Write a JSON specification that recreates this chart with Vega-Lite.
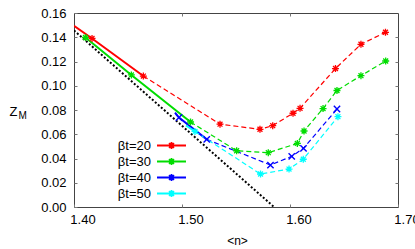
{
  "$schema": "https://vega.github.io/schema/vega-lite/v6.json",
  "width": 324,
  "height": 194,
  "autosize": "none",
  "padding": {"left": 74, "top": 13, "right": 17, "bottom": 42},
  "background": "white",
  "config": {
    "view": {"stroke": "#444", "strokeWidth": 1},
    "axis": {
      "labelFont": "Liberation Sans",
      "titleFont": "Liberation Sans",
      "labelColor": "#000",
      "titleColor": "#000",
      "grid": false,
      "domain": false,
      "tickColor": "#777",
      "tickWidth": 1,
      "labelFontSize": 13,
      "labelFlush": false,
      "titleFontWeight": "normal"
    }
  },
  "datasets": {
    "limit": [
      {"n": 1.40, "z": 0.1456},
      {"n": 1.5852, "z": 0.0}
    ],
    "solid": [
      {"beta": "βt=20", "n": 1.40, "z": 0.1495},
      {"beta": "βt=20", "n": 1.4167, "z": 0.1390},
      {"beta": "βt=20", "n": 1.4642, "z": 0.1080},
      {"beta": "βt=30", "n": 1.4106, "z": 0.1398},
      {"beta": "βt=30", "n": 1.4531, "z": 0.1089},
      {"beta": "βt=30", "n": 1.5079, "z": 0.0701},
      {"beta": "βt=40", "n": 1.4935, "z": 0.0779},
      {"beta": "βt=40", "n": 1.4972, "z": 0.0738},
      {"beta": "βt=40", "n": 1.5229, "z": 0.0558},
      {"beta": "βt=50", "n": 1.5037, "z": 0.0672},
      {"beta": "βt=50", "n": 1.5120, "z": 0.0623}
    ],
    "dashed": [
      {"beta": "βt=20", "n": 1.4642, "z": 0.1080},
      {"beta": "βt=20", "n": 1.5352, "z": 0.0683},
      {"beta": "βt=20", "n": 1.5722, "z": 0.0641},
      {"beta": "βt=20", "n": 1.5840, "z": 0.0671},
      {"beta": "βt=20", "n": 1.6028, "z": 0.0773},
      {"beta": "βt=20", "n": 1.6093, "z": 0.0814},
      {"beta": "βt=20", "n": 1.6421, "z": 0.1142},
      {"beta": "βt=20", "n": 1.6657, "z": 0.1342},
      {"beta": "βt=20", "n": 1.6884, "z": 0.1441},
      {"beta": "βt=30", "n": 1.5079, "z": 0.0701},
      {"beta": "βt=30", "n": 1.5506, "z": 0.0464},
      {"beta": "βt=30", "n": 1.5799, "z": 0.0448},
      {"beta": "βt=30", "n": 1.6068, "z": 0.0524},
      {"beta": "βt=30", "n": 1.6130, "z": 0.0627},
      {"beta": "βt=30", "n": 1.6306, "z": 0.0812},
      {"beta": "βt=30", "n": 1.6435, "z": 0.0961},
      {"beta": "βt=30", "n": 1.6657, "z": 0.1083},
      {"beta": "βt=30", "n": 1.6886, "z": 0.1204},
      {"beta": "βt=40", "n": 1.5229, "z": 0.0558},
      {"beta": "βt=40", "n": 1.5819, "z": 0.0346},
      {"beta": "βt=40", "n": 1.6016, "z": 0.0418},
      {"beta": "βt=40", "n": 1.6125, "z": 0.0484},
      {"beta": "βt=40", "n": 1.6435, "z": 0.0808},
      {"beta": "βt=50", "n": 1.5120, "z": 0.0623},
      {"beta": "βt=50", "n": 1.5727, "z": 0.0272},
      {"beta": "βt=50", "n": 1.5991, "z": 0.0313},
      {"beta": "βt=50", "n": 1.6123, "z": 0.0394},
      {"beta": "βt=50", "n": 1.6444, "z": 0.0745}
    ],
    "markers": [
      {"beta": "βt=20", "n": 1.4167, "z": 0.1390},
      {"beta": "βt=20", "n": 1.4642, "z": 0.1080},
      {"beta": "βt=20", "n": 1.5352, "z": 0.0683},
      {"beta": "βt=20", "n": 1.5722, "z": 0.0641},
      {"beta": "βt=20", "n": 1.5840, "z": 0.0671},
      {"beta": "βt=20", "n": 1.6028, "z": 0.0773},
      {"beta": "βt=20", "n": 1.6093, "z": 0.0814},
      {"beta": "βt=20", "n": 1.6421, "z": 0.1142},
      {"beta": "βt=20", "n": 1.6657, "z": 0.1342},
      {"beta": "βt=20", "n": 1.6884, "z": 0.1441},
      {"beta": "βt=30", "n": 1.4106, "z": 0.1398},
      {"beta": "βt=30", "n": 1.4531, "z": 0.1089},
      {"beta": "βt=30", "n": 1.5079, "z": 0.0701},
      {"beta": "βt=30", "n": 1.5506, "z": 0.0464},
      {"beta": "βt=30", "n": 1.5799, "z": 0.0448},
      {"beta": "βt=30", "n": 1.6068, "z": 0.0524},
      {"beta": "βt=30", "n": 1.6130, "z": 0.0627},
      {"beta": "βt=30", "n": 1.6306, "z": 0.0812},
      {"beta": "βt=30", "n": 1.6435, "z": 0.0961},
      {"beta": "βt=30", "n": 1.6657, "z": 0.1083},
      {"beta": "βt=30", "n": 1.6886, "z": 0.1204},
      {"beta": "βt=40", "n": 1.4972, "z": 0.0738},
      {"beta": "βt=40", "n": 1.5229, "z": 0.0558},
      {"beta": "βt=40", "n": 1.5819, "z": 0.0346},
      {"beta": "βt=40", "n": 1.6016, "z": 0.0418},
      {"beta": "βt=40", "n": 1.6125, "z": 0.0484},
      {"beta": "βt=40", "n": 1.6435, "z": 0.0808},
      {"beta": "βt=50", "n": 1.5120, "z": 0.0623},
      {"beta": "βt=50", "n": 1.5727, "z": 0.0272},
      {"beta": "βt=50", "n": 1.5991, "z": 0.0313},
      {"beta": "βt=50", "n": 1.6123, "z": 0.0394},
      {"beta": "βt=50", "n": 1.6444, "z": 0.0745}
    ]
  },
  "layer": [
    {
      "data": {"name": "limit"},
      "mark": {"type": "line", "color": "#000", "strokeWidth": 2, "strokeDash": [2, 2], "clip": true},
      "encoding": {
        "x": {
          "field": "n", "type": "quantitative",
          "scale": {"domain": [1.4, 1.7], "nice": false, "zero": false},
          "axis": {
            "orient": "bottom", "values": [1.4, 1.5, 1.6, 1.7], "format": ".2f",
            "tickSize": -3, "labelOffset": 8.5, "labelPadding": 9,
            "title": "<n>", "titleFontSize": 12, "titleX": 163, "titleY": 37,
            "titleAlign": "center", "titleBaseline": "alphabetic"
          }
        },
        "y": {
          "field": "z", "type": "quantitative",
          "scale": {"domain": [0, 0.16], "nice": false, "zero": false},
          "axis": {
            "orient": "left", "values": [0, 0.02, 0.04, 0.06, 0.08, 0.1, 0.12, 0.14, 0.16], "format": ".2f",
            "tickSize": -3, "labelPadding": 11,
            "title": "Z", "titleFontSize": 13, "titleAngle": 0, "titleX": -65, "titleY": 102,
            "titleAlign": "left", "titleBaseline": "alphabetic"
          }
        }
      }
    },
    {
      "data": {"name": "solid"},
      "mark": {"type": "line", "strokeWidth": 2, "clip": true},
      "encoding": {
        "x": {
          "field": "n", "type": "quantitative",
          "scale": {"domain": [1.4, 1.7], "nice": false, "zero": false},
          "axis": {"orient": "top", "values": [1.5, 1.6], "labels": false, "title": null, "tickSize": -3}
        },
        "y": {
          "field": "z", "type": "quantitative",
          "scale": {"domain": [0, 0.16], "nice": false, "zero": false},
          "axis": {"orient": "right", "values": [0.02, 0.04, 0.06, 0.08, 0.1, 0.12, 0.14], "labels": false, "title": null, "tickSize": -3}
        },
        "color": {
          "field": "beta", "type": "nominal",
          "scale": {"domain": ["βt=20", "βt=30", "βt=40", "βt=50"], "range": ["#ff0000", "#00dd00", "#0000ff", "#00ffff"]}
        }
      }
    },
    {
      "data": {"name": "dashed"},
      "mark": {"type": "line", "strokeWidth": 1.2, "strokeDash": [5, 3], "clip": true},
      "encoding": {
        "x": {
          "field": "n", "type": "quantitative",
          "scale": {"domain": [1.4, 1.7], "nice": false, "zero": false},
          "axis": null
        },
        "y": {
          "field": "z", "type": "quantitative",
          "scale": {"domain": [0, 0.16], "nice": false, "zero": false},
          "axis": {
            "orient": "left", "labels": false, "ticks": false, "title": "M", "titleFontSize": 10,
            "titleAngle": 0, "titleX": -56, "titleY": 105, "titleAlign": "left", "titleBaseline": "alphabetic"
          }
        },
        "color": {
          "field": "beta", "type": "nominal",
          "scale": {"domain": ["βt=20", "βt=30", "βt=40", "βt=50"], "range": ["#ff0000", "#00dd00", "#0000ff", "#00ffff"]}
        }
      }
    },
    {
      "data": {"name": "markers"},
      "transform": [{"filter": "datum.beta != 'βt=40'"}],
      "mark": {"type": "point", "filled": false, "strokeWidth": 1.3, "size": 49, "opacity": 1,
               "shape": "M-1,0L1,0M0,-1L0,1M-0.7,-0.7L0.7,0.7M-0.7,0.7L0.7,-0.7"},
      "encoding": {
        "x": {
          "field": "n", "type": "quantitative",
          "scale": {"domain": [1.4, 1.7], "nice": false, "zero": false},
          "axis": null
        },
        "y": {
          "field": "z", "type": "quantitative",
          "scale": {"domain": [0, 0.16], "nice": false, "zero": false},
          "axis": null
        },
        "color": {
          "field": "beta", "type": "nominal",
          "scale": {"domain": ["βt=20", "βt=30", "βt=40", "βt=50"], "range": ["#ff0000", "#00dd00", "#0000ff", "#00ffff"]},
          "legend": {
            "orient": "none", "legendX": 91, "legendY": 126, "title": null, "padding": 0,
            "labelAlign": "right", "labelOffset": -27, "labelFont": "Liberation Sans", "labelFontSize": 13,
            "labelColor": "#000", "rowPadding": 1,
            "symbolType": "M-4.14,0L4.14,0M-1,0L1,0M0,-1L0,1M-0.7,-0.7L0.7,0.7M-0.7,0.7L0.7,-0.7",
            "symbolSize": 49, "symbolStrokeWidth": 1.8
          }
        }
      }
    },
    {
      "data": {"name": "markers"},
      "transform": [{"filter": "datum.beta == 'βt=40'"}],
      "mark": {"type": "point", "filled": false, "strokeWidth": 1.4, "size": 40, "opacity": 1,
               "shape": "M-1,-1L1,1M-1,1L1,-1"},
      "encoding": {
        "x": {
          "field": "n", "type": "quantitative",
          "scale": {"domain": [1.4, 1.7], "nice": false, "zero": false},
          "axis": null
        },
        "y": {
          "field": "z", "type": "quantitative",
          "scale": {"domain": [0, 0.16], "nice": false, "zero": false},
          "axis": null
        },
        "color": {
          "field": "beta", "type": "nominal",
          "scale": {"domain": ["βt=20", "βt=30", "βt=40", "βt=50"], "range": ["#ff0000", "#00dd00", "#0000ff", "#00ffff"]}
        }
      }
    }
  ],
  "resolve": {"axis": {"x": "independent", "y": "independent"}}
}
